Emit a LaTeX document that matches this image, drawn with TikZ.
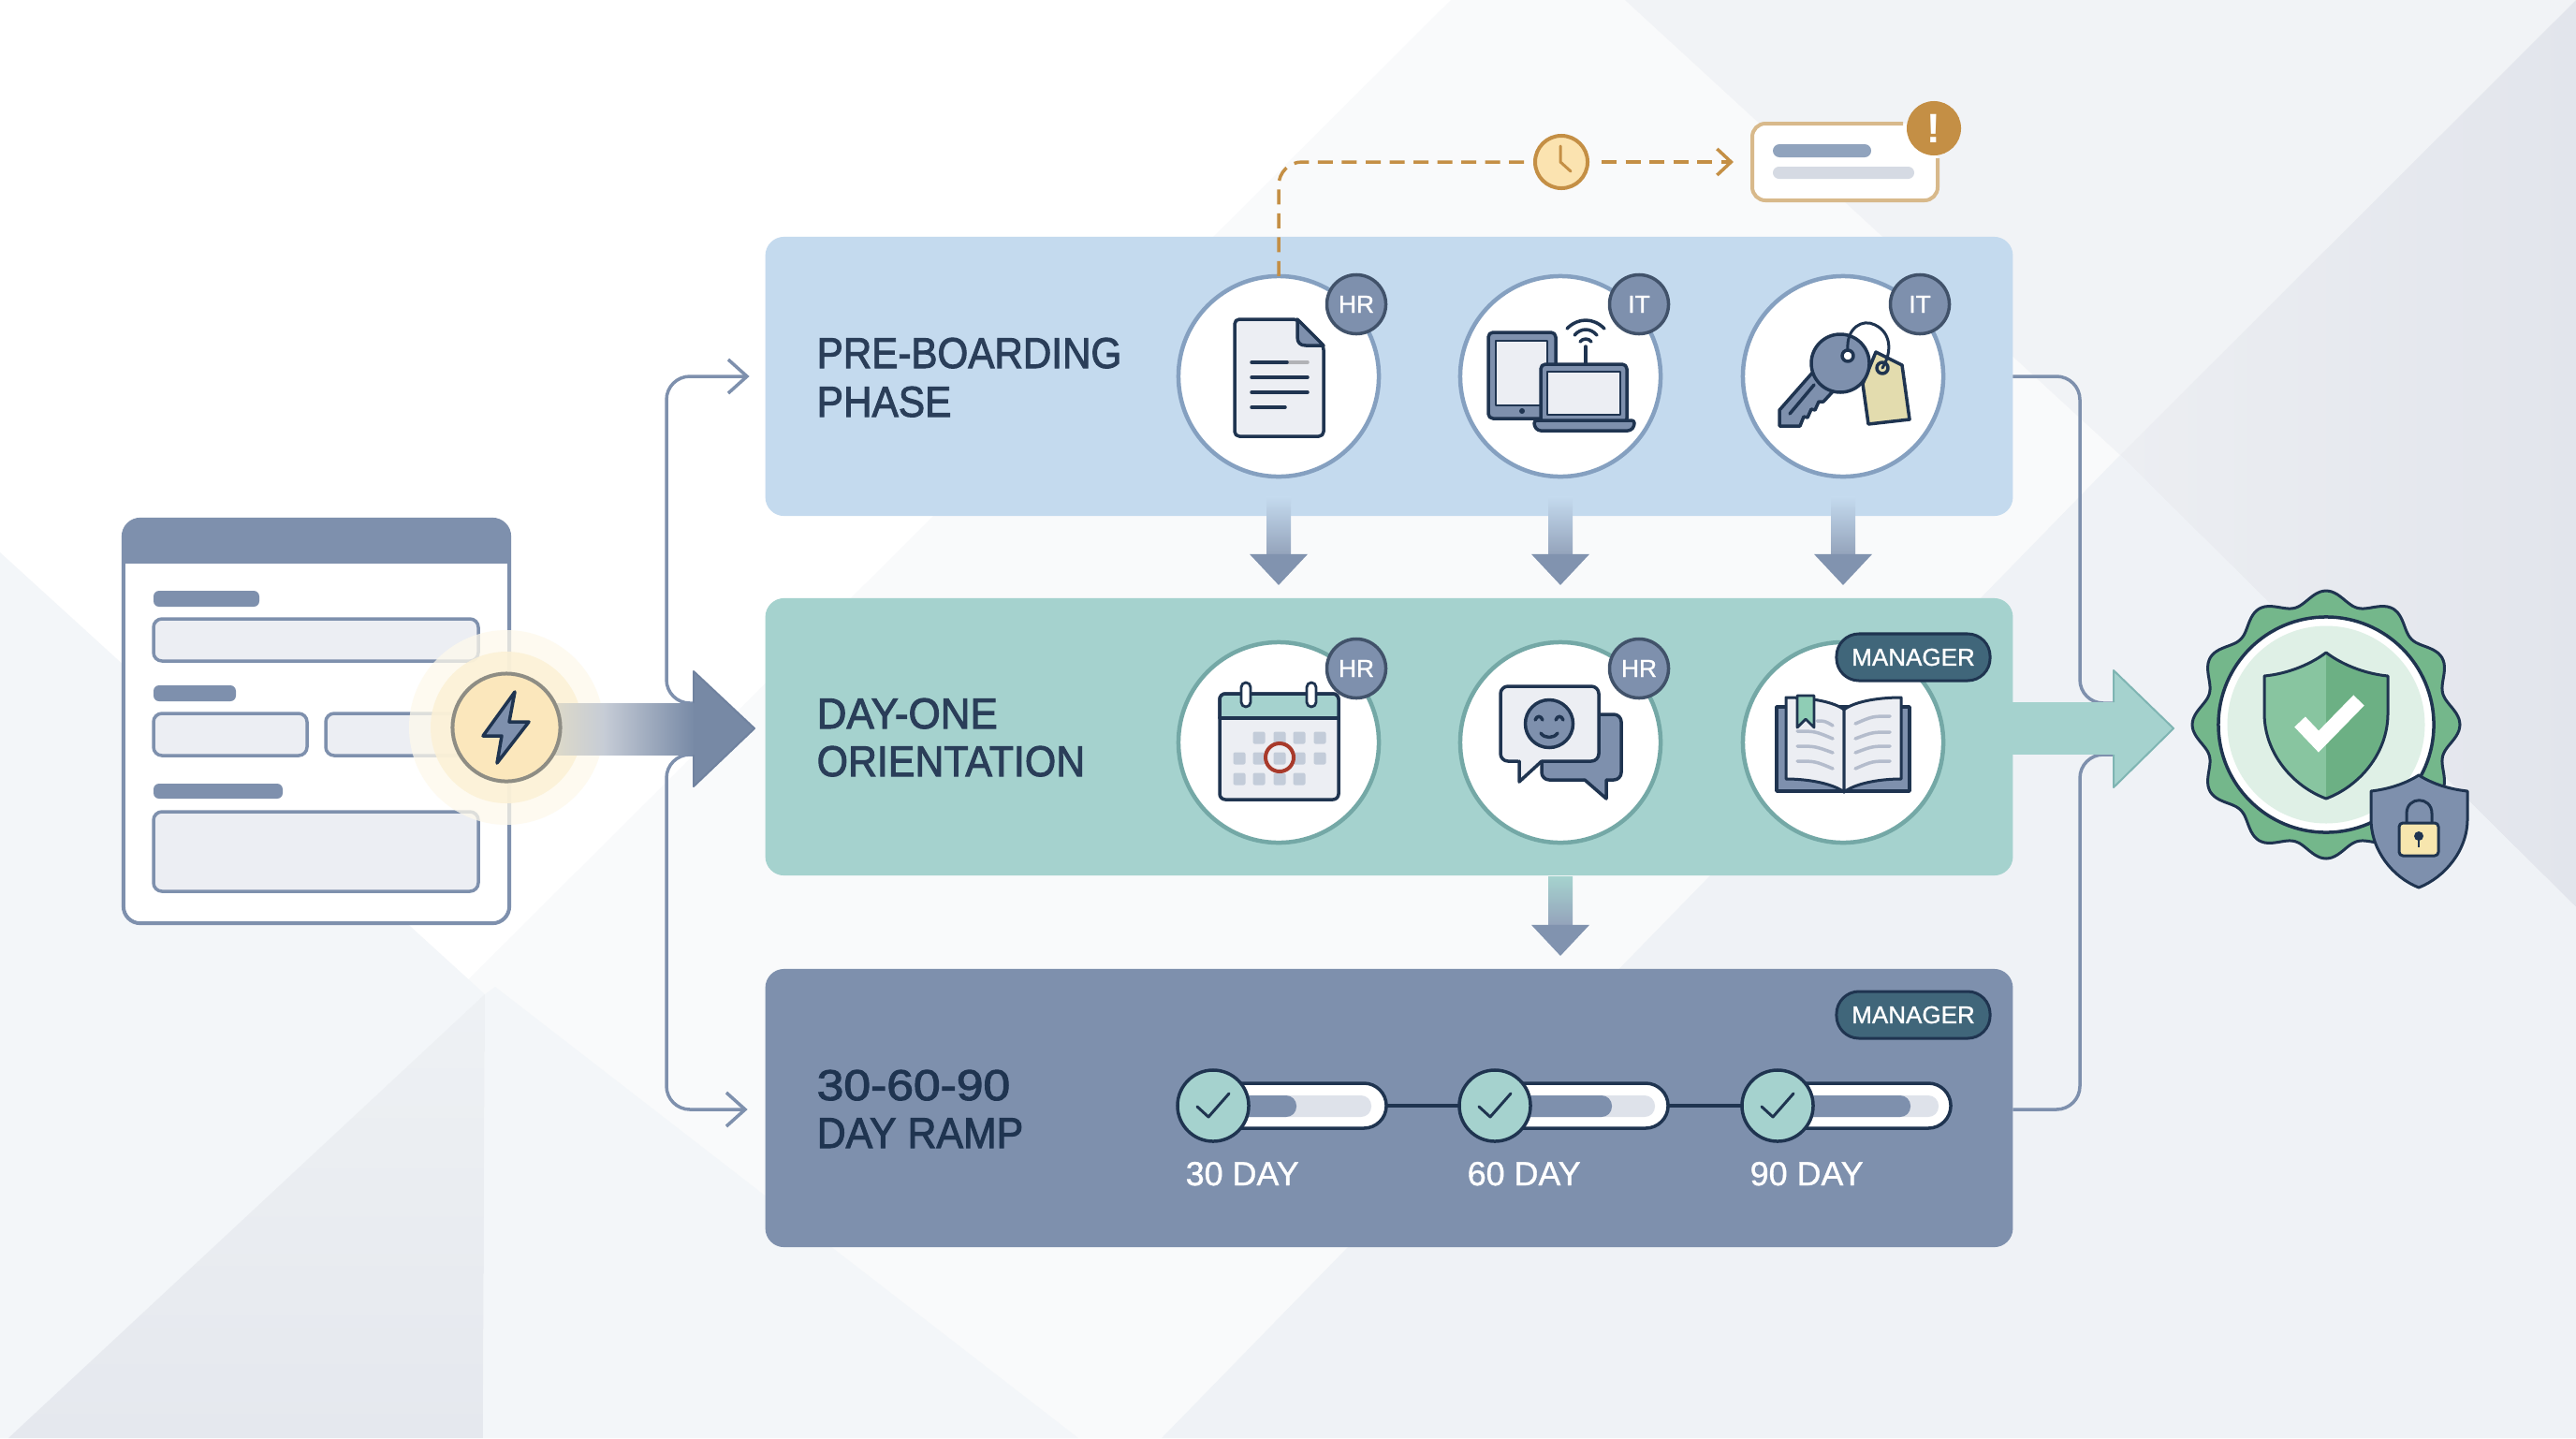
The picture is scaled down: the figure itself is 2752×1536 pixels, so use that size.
\documentclass[tikz,border=0pt]{standalone}
\usepackage{fontspec}
\setmainfont{Liberation Sans}
\newfontfamily\titlefont[FakeBold=2.2]{Liberation Sans}
\newfontfamily\labelfont[FakeBold=1.0]{Liberation Sans}
\usetikzlibrary{arrows.meta,calc,shapes.geometric}
\definecolor{ink}{HTML}{1F3450}
\definecolor{slate}{HTML}{7E90AD}
\definecolor{flowhead}{HTML}{8193AF}
\definecolor{bluep}{HTML}{C4DAEE}
\definecolor{tealp}{HTML}{A5D2CE}
\definecolor{paper}{HTML}{ECEEF3}
\definecolor{amber}{HTML}{C48F45}
\definecolor{amberl}{HTML}{D8B98B}
\definecolor{mgr}{HTML}{40667A}
\definecolor{bgA}{HTML}{F9FAFB}
\definecolor{bgB}{HTML}{F3F6F9}
\definecolor{bgCa}{HTML}{EEF1F4}
\definecolor{bgCb}{HTML}{E5E8EE}
\definecolor{bgT}{HTML}{F1F3F6}
\definecolor{bgRa}{HTML}{ECEEF2}
\definecolor{bgRb}{HTML}{E2E5EC}
\definecolor{bgD}{HTML}{EFF2F6}
\definecolor{track}{HTML}{DEE2EA}
\definecolor{glowA}{HTML}{FCF1D6}
\definecolor{glowB}{HTML}{FEF9EB}
\definecolor{sealg}{HTML}{74B78B}
\definecolor{shaftA}{HTML}{DEDAC8}
\definecolor{shaftB}{HTML}{C6CCD6}
\definecolor{trigfill}{HTML}{FBE7BC}
\definecolor{trigedge}{HTML}{8E8D84}
\definecolor{ringblue}{HTML}{85A0C0}
\definecolor{ringteal}{HTML}{74A8A6}
\definecolor{tagfill}{HTML}{E3DCAE}
\definecolor{gridcell}{HTML}{C3CCD9}
\definecolor{calred}{HTML}{A83A2B}
\definecolor{bookline}{HTML}{B4BCCC}
\definecolor{markfill}{HTML}{8FCDB5}
\definecolor{clockfill}{HTML}{FBE3B0}
\definecolor{notebar}{HTML}{90A3BD}
\definecolor{notebarl}{HTML}{D5DAE3}
\definecolor{sealpale}{HTML}{DFF0E6}
\definecolor{shieldl}{HTML}{88C5A0}
\definecolor{shieldr}{HTML}{6CB084}
\definecolor{lockfill}{HTML}{F7E6AE}
\definecolor{tealedge}{HTML}{7FB5B3}
\tikzset{
  panel/.style={rectangle,rounded corners=.2cm,minimum width=13.32cm,inner sep=0pt,outer sep=0pt},
  iconring/.style={circle,fill=white,line width=.045cm,minimum size=2.14cm,inner sep=0pt,outer sep=0pt},
  badge/.style={circle,fill=slate,draw=ink!85,line width=.035cm,minimum size=.63cm,inner sep=0pt,text=white,font=\labelfont\fontsize{7.5}{8}\selectfont},
  mgrpill/.style={rectangle,rounded corners=.24cm,fill=mgr,draw=ink,line width=.03cm,minimum width=1.64cm,minimum height=.5cm,inner sep=0pt,text=white,font=\labelfont\fontsize{7.4}{8}\selectfont},
  title/.style={anchor=base west,inner sep=0pt,font=\titlefont\fontsize{13.1}{15}\selectfont},
  daylabel/.style={anchor=base west,inner sep=0pt,text=white,font=\labelfont\fontsize{10.2}{12}\selectfont},
  flowline/.style={draw=slate,line width=.035cm,rounded corners=.25cm},
  barb/.style={-{Straight Barb[length=.2cm,width=.36cm,line width=.035cm]}},
  alertline/.style={draw=amber,line width=.035cm,dash pattern=on .16cm off .095cm},
  icon/.style={draw=ink,line width=.035cm,line join=round,line cap=round},
  field/.style={draw=slate,fill=paper,line width=.035cm,rounded corners=.09cm},
  bar/.style={fill=slate,rounded corners=.06cm},
  checkdot/.style={circle,fill=tealp,draw=ink,line width=.035cm,minimum size=.76cm,inner sep=0pt,outer sep=0pt},
  pill/.style={rectangle,rounded corners=.24cm,fill=white,draw=ink,line width=.035cm,minimum width=1.85cm,minimum height=.48cm,inner sep=0pt,outer sep=0pt},
}
\newcommand\FlowDown[4]{%
  \coordinate (ftip) at ($(#1 |- #2.north)+(0,-14)$);
  \shade[top color=#4,bottom color=flowhead!85!white] ($(ftip)+(-13,-#3)$) rectangle ($(ftip)+(13,-33)$);
  \fill[flowhead] ($(ftip)+(-31,-33)$) -- ($(ftip)+(31,-33)$) -- (ftip) -- cycle;}
\newcommand\RampStep[5]{%
  \node[pill] (#1p) at ({#2+92.5},1181) {};
  \fill[track,rounded corners=.11cm] ({#2+10},1170) rectangle ({#2+#4},1193);
  \fill[slate,rounded corners=.11cm] ({#2+10},1170) rectangle ({#2+#3},1193);
  \node[checkdot] (#1c) at (#2,1181) {};
  \draw[icon,line width=.03cm] ({#2-17},1182) -- ({#2-5},1193) -- ({#2+17},1168);
  \node[daylabel] (#1l) at ({#2-30},1266) {#5};
}
\begin{document}
\begin{tikzpicture}[x=0.01cm,y=-0.01cm]
\path[use as bounding box] (0,0) rectangle (2752,1536);
% background facets
\fill[white] (0,0) rectangle (2752,1536);
\fill[bgA] (1550,0) -- (2752,0) -- (2752,1536) -- (9,1536) -- cycle;
\fill[bgB] (0,590) -- (518,1062) -- (9,1536) -- (0,1536) -- cycle;
\shade[top color=bgCa,bottom color=bgCb] (518,1062) -- (516,1536) -- (9,1536) -- cycle;
\fill[bgB] (518,1062) -- (529,1054) -- (1152,1536) -- (516,1536) -- cycle;
\fill[bgT] (1736,0) -- (2752,0) -- (2265,486) -- cycle;
\shade[left color=bgRa,right color=bgRb] (2752,0) -- (2752,969) -- (2265,486) -- cycle;
\fill[bgD] (2265,486) -- (2752,969) -- (2752,1536) -- (1241,1536) -- cycle;

% form
\node[rectangle,rounded corners=.18cm,fill=white,draw=slate,line width=.04cm,minimum width=4.12cm,minimum height=4.31cm,inner sep=0pt] (form) at (338,770.5) {};
\fill[slate,rounded corners=.18cm] (132,555) rectangle (544,630);
\fill[white] (134,602) rectangle (542,640);
\draw[slate,line width=.04cm] (132,595) -- (132,640) (544,595) -- (544,640);
\path[bar] (164,631) rectangle (277,648);
\path[field] (164,661) rectangle (511,706);
\path[bar] (164,732) rectangle (252,749);
\path[field] (164,762) rectangle (328,807);
\path[field] (348,762) rectangle (511,807);
\path[bar] (164,837) rectangle (302,853);
\path[field] (164,867) rectangle (511,952);

% panels
\node[panel,fill=bluep,minimum height=2.98cm] (p1) at (1484,402) {};
\node[panel,fill=tealp,minimum height=2.96cm] (p2) at (1484,787) {};
\node[panel,fill=slate,minimum height=2.97cm] (p3) at (1484,1183.5) {};

% connectors from the central arrow to the top and bottom panels
\coordinate (aL1) at (741,751);
\coordinate (aL2) at (741,806);
\coordinate (busL1) at (712,402);
\coordinate (busL2) at (712,1185);
\draw[flowline,barb,shorten >=.17cm] (aL1) -| (busL1) -- (p1.west);
\draw[flowline,barb,shorten >=.19cm] (aL2) -| (busL2) -- (p3.west |- busL2);
\coordinate (aR1) at (2258,751);
\coordinate (aR2) at (2258,806);
\coordinate (busR1) at (2222,402);
\coordinate (busR2) at (2222,1185);
\draw[flowline] (p1.east) -- (busR1) |- (aR1);
\draw[flowline] (p3.east |- busR2) -- (busR2) |- (aR2);

% trigger glow
\fill[glowB,opacity=.75] (541,777) circle[radius=104];
\fill[glowA,opacity=.85] (541,777) circle[radius=81];
% main arrow
\shade[left color=shaftA,right color=shaftB] (590,751) rectangle (646,806);
\shade[left color=shaftB,right color=flowhead!90!ink] (645,751) rectangle (742,806);
\fill[flowhead!90!ink] (741,717) -- (806,778) -- (741,840) -- cycle;
\draw[slate!85!ink,line width=.02cm,line join=round] (741,751) -- (741,717) -- (806,778) -- (741,840) -- (741,806);
% trigger
\node[circle,fill=trigfill,draw=trigedge,line width=.04cm,minimum size=1.15cm,inner sep=0pt,outer sep=0pt] (trig) at (541,777) {};
\draw[icon,fill=slate] (550,739) -- (516,786) -- (536,786) -- (531,815) -- (565,771) -- (544,771) -- cycle;

% right arrow
\fill[tealp] (2149,750) rectangle (2259,806);
\fill[tealp] (2258,716) -- (2322,778) -- (2258,841) -- cycle;
\draw[tealedge,line width=.02cm,line join=round] (2258,750) -- (2258,716) -- (2322,778) -- (2258,841) -- (2258,806);

% titles
\node[title,text=ink!95!white] (t1a) at (872,393) {\scalebox{.915}[1]{PRE-BOARDING}};
\node[title,text=ink!95!white] (t1b) at (872,445) {\scalebox{.92}[1]{PHASE}};
\node[title,text=ink!95!white] (t2a) at (872,778) {\scalebox{.955}[1]{DAY-ONE}};
\node[title,text=ink!95!white] (t2b) at (872,829) {\scalebox{.93}[1]{ORIENTATION}};
\node[title,text=ink] (t3a) at (872,1175) {\scalebox{1.12}[1]{30-60-90}};
\node[title,text=ink] (t3b) at (872,1226) {\scalebox{.93}[1]{DAY RAMP}};

% flow between panels
\node[iconring,draw=ringblue] (c11) at (1366,402) {};
\node[iconring,draw=ringblue] (c12) at (1667,402) {};
\node[iconring,draw=ringblue] (c13) at (1969,402) {};
\node[iconring,draw=ringteal] (c21) at (1366,793) {};
\node[iconring,draw=ringteal] (c22) at (1667,793) {};
\node[iconring,draw=ringteal] (c23) at (1969,793) {};
\FlowDown{c11}{p2}{94}{bluep}
\FlowDown{c12}{p2}{94}{bluep}
\FlowDown{c13}{p2}{94}{bluep}
\FlowDown{c22}{p3}{84}{tealp}

% document icon
\draw[icon,fill=paper,rounded corners=.05cm] (1319,341) -- (1386,341) -- (1414,369) -- (1414,466) -- (1319,466) -- cycle;
\draw[icon,fill=slate] (1386,341) -- (1414,369) -- (1395,369) .. controls (1389,369) and (1386,366) .. (1386,360) -- cycle;
\draw[icon,draw=black!25!paper] (1375,387) -- (1397,387);
\draw[icon] (1337,387) -- (1375,387) (1337,403) -- (1397,403) (1337,419) -- (1397,419) (1337,435) -- (1373,435);
% devices icon
\draw[icon,fill=slate,rounded corners=.05cm] (1590,355) rectangle (1662,447);
\draw[icon,fill=paper,line width=.025cm] (1598,364) rectangle (1653,433);
\fill[ink] (1626,439) circle[radius=3];
\draw[icon] (1694,389) -- (1694,370);
\draw[icon] (1688,365) .. controls (1691,361) and (1697,361) .. (1700,365);
\draw[icon] (1682,358) .. controls (1689,350) and (1699,350) .. (1706,358);
\draw[icon] (1674,351) .. controls (1686,339) and (1702,339) .. (1714,351);
\draw[icon,fill=slate,rounded corners=.05cm] (1646,389) rectangle (1738,452);
\draw[icon,fill=paper,line width=.025cm] (1653,397) rectangle (1731,443);
\draw[icon,fill=slate,rounded corners=.03cm] (1639,449) -- (1746,449) -- (1746,455) -- (1742,460) -- (1643,460) -- (1639,455) -- cycle;
% key icon
\draw[icon,fill=tagfill] (2004,376) -- (2032,390) -- (2040,448) -- (1996,453) -- (1990,410) -- cycle;
\draw[icon] (2011,393) circle[radius=6];
\draw[icon,fill=slate] (1938,396) -- (1901,438) -- (1901,455) -- (1923,455) -- (1927,445) -- (1931,446) -- (1935,437) -- (1939,438) -- (1943,429) -- (1948,429) -- (1960,416) -- cycle;
\draw[icon,fill=slate] (1966,388) circle[radius=31];
\draw[icon] (1912,442) -- (1938,411);
\draw[icon,fill=white] (1974,380) circle[radius=6];
\draw[icon,line width=.03cm] (1974,374) .. controls (1972,350) and (1990,340) .. (2003,347) .. controls (2020,355) and (2022,375) .. (2011,393);

% badges row 1
\node[badge] (b11) at (1449,325) {HR};
\node[badge] (b12) at (1751,325) {IT};
\node[badge] (b13) at (2051,325) {IT};

% calendar icon
\draw[icon,fill=paper,rounded corners=.06cm] (1303,741) rectangle (1430,854);
\begin{scope}
\clip[rounded corners=.06cm] (1303,741) rectangle (1430,790);
\fill[tealp] (1303,741) rectangle (1430,767);
\end{scope}
\draw[icon,rounded corners=.06cm] (1303,767) -- (1303,741) -- (1430,741) -- (1430,767);
\draw[icon] (1303,767) -- (1430,767);
\foreach \cx in {1331,1401} \draw[icon,fill=white,line width=.028cm,rounded corners=.05cm] ({\cx-5},729) rectangle ({\cx+5},755);
\foreach \gx/\gy in {1345/788,1367/788,1388/788,1410/788,1324/810,1345/810,1367/810,1388/810,1410/810,1324/832,1345/832,1367/832,1388/832}
  \fill[gridcell,rounded corners=.02cm] ({\gx-6.5},{\gy-6.5}) rectangle ({\gx+6.5},{\gy+6.5});
\draw[draw=calred,line width=.04cm] (1367,809) circle[radius=15];
% chat icon
\draw[icon,fill=slate,rounded corners=.08cm] (1647,763) -- (1732,763) -- (1732,833) -- (1716,833) -- (1647,833) -- cycle;
\fill[slate] (1693,831) -- (1716,853) -- (1716,831) -- cycle;
\draw[icon] (1693,833) -- (1716,853) -- (1716,833);
\draw[icon,fill=paper,rounded corners=.08cm] (1603,733) -- (1708,733) -- (1708,813) -- (1647,813) -- (1632,813) -- (1603,813) -- cycle;
\fill[paper] (1622,811) -- (1623,835) -- (1647,811) -- cycle;
\draw[icon] (1623,813) -- (1623,835) -- (1647,813);
\draw[icon,fill=slate] (1655,773) circle[radius=25.5];
\draw[icon] (1640,769) .. controls (1642,764) and (1646,764) .. (1648,769);
\draw[icon] (1662,769) .. controls (1664,764) and (1668,764) .. (1670,769);
\draw[icon] (1646,783) .. controls (1650,789) and (1660,789) .. (1664,783);
% book icon
\draw[icon,fill=slate] (1898,755) rectangle (2040,845);
\draw[icon,fill=paper,line width=.03cm] (1908,745) .. controls (1935,745) and (1960,750) .. (1970,758) -- (1970,846) .. controls (1960,838) and (1935,832) .. (1908,832) -- cycle;
\draw[icon,fill=paper,line width=.03cm] (2031,745) .. controls (2004,745) and (1980,750) .. (1970,758) -- (1970,846) .. controls (1980,838) and (2004,832) .. (2031,832) -- cycle;
\foreach \lx/\ly/\rx/\ry in {1941/770/1958/775,1920/781/1958/789,1920/797/1958/804,1920/813/1958/821}
  \draw[bookline,line width=.035cm,line cap=round] (\lx,\ly) .. controls ({(\lx+\rx)/2},{\ly}) .. (\rx,\ry);
\foreach \lx/\ly/\rx/\ry in {1982/773/2019/765,1982/789/2019/782,1982/804/2019/797,1982/821/2019/813}
  \draw[bookline,line width=.035cm,line cap=round] (\lx,\ly) .. controls ({(\lx+\rx)/2},{\ry}) .. (\rx,\ry);
\draw[icon,fill=markfill,line width=.028cm] (1920,743) -- (1938,743) -- (1938,777) -- (1929,768) -- (1920,777) -- cycle;

% badges row 2
\node[badge] (b21) at (1449,714) {HR};
\node[badge] (b22) at (1751,714) {HR};
\node[mgrpill] (b23) at (2044,702) {MANAGER};
\node[mgrpill] (b33) at (2044,1084) {MANAGER};

% ramp
\RampStep{r1}{1296}{89}{169}{30 DAY}
\RampStep{r2}{1597}{125}{171}{60 DAY}
\RampStep{r3}{1899}{142}{172}{90 DAY}
\draw[ink,line width=.035cm] (r1p.east) -- (r2c.west);
\draw[ink,line width=.035cm] (r2p.east) -- (r3c.west);

% overdue reminder
\node[circle,fill=clockfill,draw=amber,line width=.04cm,minimum size=.56cm,inner sep=0pt,outer sep=0pt] (clock) at (1668,173) {};
\draw[amber,line width=.03cm,line cap=round,line join=round] (1667,156) -- (1667,173) -- (1678,183);
\node[rectangle,rounded corners=.14cm,fill=white,minimum width=1.98cm,minimum height=.82cm,inner sep=0pt,outer sep=0pt] (note) at (1971,173) {};
\draw[amberl,line width=.04cm,rounded corners=.14cm] (2033,132) -- (1872,132) -- (1872,214) -- (2070,214) -- (2070,169);
\fill[notebar,rounded corners=.07cm] (1894,154) rectangle (1999,168);
\fill[notebarl,rounded corners=.065cm] (1894,178) rectangle (2045,191);
\node[circle,fill=amber,minimum size=.58cm,inner sep=0pt,text=white,font=\bfseries\fontsize{12.5}{13}\selectfont] (alert) at (2066,137) {!};
\coordinate (dashcorner) at (c11.north |- clock.west);
\draw[alertline,rounded corners=.25cm,shorten >=.12cm] (c11.north) -- (dashcorner) -- (clock.west);
\draw[alertline,-{Straight Barb[length=.15cm,width=.28cm,line width=.035cm]},shorten <=.15cm,shorten >=.2cm] (clock.east) -- (note.west);

% seal
\fill[sealg] plot[domain=0:360,samples=145,smooth] ({2485+(136+7*cos(12*\x))*cos(\x)},{774+(136+7*cos(12*\x))*sin(\x)}) -- cycle;
\draw[icon,line width=.03cm] plot[domain=0:360,samples=145,smooth] ({2485+(136+7*cos(12*\x))*cos(\x)},{774+(136+7*cos(12*\x))*sin(\x)}) -- cycle;
\node[circle,fill=white,draw=ink,line width=.035cm,minimum size=2.3cm,inner sep=0pt,outer sep=0pt] (seal) at (2485,774) {};
\fill[sealpale] (seal.center) circle[radius=105.5];
\fill[shieldl] (2485,697) .. controls (2465,712) and (2440,720) .. (2419,722) -- (2419,762) .. controls (2419,805) and (2450,840) .. (2485,853) -- cycle;
\fill[shieldr] (2485,697) .. controls (2505,712) and (2530,720) .. (2551,722) -- (2551,762) .. controls (2551,805) and (2520,840) .. (2485,853) -- cycle;
\draw[icon,line width=.03cm] (2485,697) .. controls (2465,712) and (2440,720) .. (2419,722) -- (2419,762) .. controls (2419,805) and (2450,840) .. (2485,853) .. controls (2520,840) and (2551,805) .. (2551,762) -- (2551,722) .. controls (2530,720) and (2505,712) .. (2485,697) -- cycle;
\draw[white,line width=.16cm,line join=miter] (2457,771) -- (2477,792) -- (2520,748);
\draw[icon,fill=slate,line width=.03cm] (2584,828) .. controls (2568,838) and (2550,843) .. (2533,845) -- (2533,875) .. controls (2533,908) and (2556,937) .. (2584,948) .. controls (2612,937) and (2636,908) .. (2636,875) -- (2636,845) .. controls (2618,843) and (2600,838) .. (2584,828) -- cycle;
\draw[icon,line width=.03cm] (2571,879) -- (2571,869) .. controls (2571,850) and (2598,850) .. (2598,869) -- (2598,879);
\draw[icon,fill=lockfill,line width=.03cm,rounded corners=.04cm] (2563,879) rectangle (2605,914);
\fill[ink] (2584,893) circle[radius=5];
\draw[ink,line width=.025cm] (2584,893) -- (2584,905);
\end{tikzpicture}
\end{document}
